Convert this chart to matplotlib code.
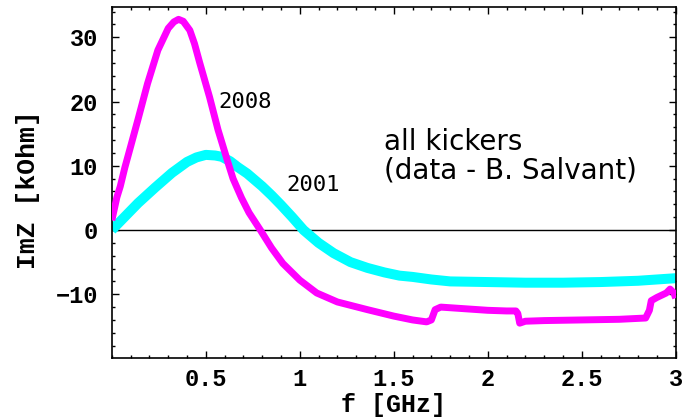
import matplotlib
matplotlib.use('Agg')
import matplotlib.pyplot as plt
from matplotlib.ticker import MultipleLocator

# 2008 measurement (magenta)
f_2008 = [0.0, 0.015, 0.027, 0.045, 0.07, 0.1, 0.14, 0.19, 0.245, 0.3, 0.33, 0.355,
          0.38, 0.415, 0.44, 0.468, 0.52, 0.565, 0.617, 0.645, 0.69, 0.73, 0.79, 0.85,
          0.91, 1.0, 1.09, 1.2, 1.36, 1.5, 1.6, 1.675, 1.70, 1.72, 1.75, 1.8, 1.9, 2.0,
          2.1, 2.15, 2.16, 2.17, 2.2, 2.3, 2.5, 2.7, 2.84, 2.86, 2.87, 2.9, 2.95,
          2.97, 2.99, 3.0]
imz_2008 = [1.5, 3.5, 5.1, 6.8, 9.8, 13.0, 17.3, 22.8, 28.0, 31.4, 32.4, 32.8,
            32.5, 31.1, 29.0, 26.0, 20.7, 15.6, 10.6, 8.0, 5.0, 2.7, 0.0, -2.8,
            -5.2, -7.8, -9.8, -11.2, -12.4, -13.4, -14.0, -14.3, -14.0, -12.4, -12.0, -12.1, -12.3, -12.5,
            -12.6, -12.6, -13.0, -14.5, -14.2, -14.1, -14.0, -13.9, -13.7, -12.5, -11.0, -10.5, -9.8,
            -9.2, -9.8, -10.6]

# 2001 measurement (cyan)
f_2001 = [0.0, 0.07, 0.14, 0.23, 0.32, 0.40, 0.45, 0.5, 0.55, 0.585, 0.63, 0.67,
          0.72, 0.76, 0.8, 0.85, 0.9, 0.96, 1.02, 1.1, 1.18, 1.27, 1.36, 1.45,
          1.53, 1.6, 1.7, 1.8, 2.0, 2.2, 2.4, 2.6, 2.8, 3.0]
imz_2001 = [0.0, 2.1, 4.2, 6.6, 8.9, 10.6, 11.3, 11.7, 11.6, 11.4, 10.7, 9.8,
            8.8, 7.8, 6.8, 5.4, 3.9, 2.0, 0.0, -2.0, -3.6, -5.0, -5.9, -6.6,
            -7.1, -7.3, -7.7, -8.0, -8.1, -8.2, -8.2, -8.1, -7.9, -7.5]

x_ticks = [0.5, 1, 1.5, 2, 2.5, 3]
x_tick_labels = ['0.5', '1', '1.5', '2', '2.5', '3']
y_ticks = [-10, 0, 10, 20, 30]

mono = 'Liberation Mono'

fig = plt.figure(figsize=(6.86, 4.2), dpi=100)
ax = fig.add_axes([0.163, 0.148, 0.822, 0.835])

ax.plot([0, 3], [0, 0], color='black', lw=1.0, zorder=1)
ax.plot(f_2001, imz_2001, color='#00ffff', lw=7.2, solid_capstyle='butt', zorder=2)
ax.plot(f_2008, imz_2008, color='#ff00ff', lw=5.0, solid_capstyle='butt', zorder=3)

ax.set_xlim(0, 3)
ax.set_ylim(-19.9, 34.7)
ax.set_xticks(x_ticks)
ax.set_xticklabels(x_tick_labels)
ax.set_yticks(y_ticks)
ax.xaxis.set_minor_locator(MultipleLocator(0.1))
ax.yaxis.set_minor_locator(MultipleLocator(2))
ax.tick_params(which='both', direction='in', top=True, right=True,
               labeltop=False, labelright=False)
ax.tick_params(which='major', length=5, width=1.0, labelsize=17)
ax.tick_params(axis='y', which='major', pad=10)
ax.tick_params(axis='x', which='major', pad=7)
ax.tick_params(which='minor', length=2.5, width=1.0)
for lab in ax.get_xticklabels() + ax.get_yticklabels():
    lab.set_family(mono)
    lab.set_weight('bold')
for sp in ax.spines.values():
    sp.set_linewidth(1.2)

ax.set_xlabel('f [GHz]', family=mono, weight='bold', fontsize=18)
ax.set_ylabel('ImZ [kOhm]', family=mono, weight='bold', fontsize=19)
ax.xaxis.set_label_coords(0.5, -0.1)
ax.yaxis.set_label_coords(-0.128, 0.479)

ax.text(0.565, 19.9, '2008', family='DejaVu Sans Mono', fontsize=16, va='center', ha='left')
ax.text(0.93, 7.0, '2001', family='DejaVu Sans Mono', fontsize=16, va='center', ha='left')

ax.text(1.45, 11.5, 'all kickers\n(data - B. Salvant)', family='DejaVu Sans',
        fontsize=20, va='center', ha='left', linespacing=1.0, clip_on=False)

fig.savefig('out.png', dpi=100)
